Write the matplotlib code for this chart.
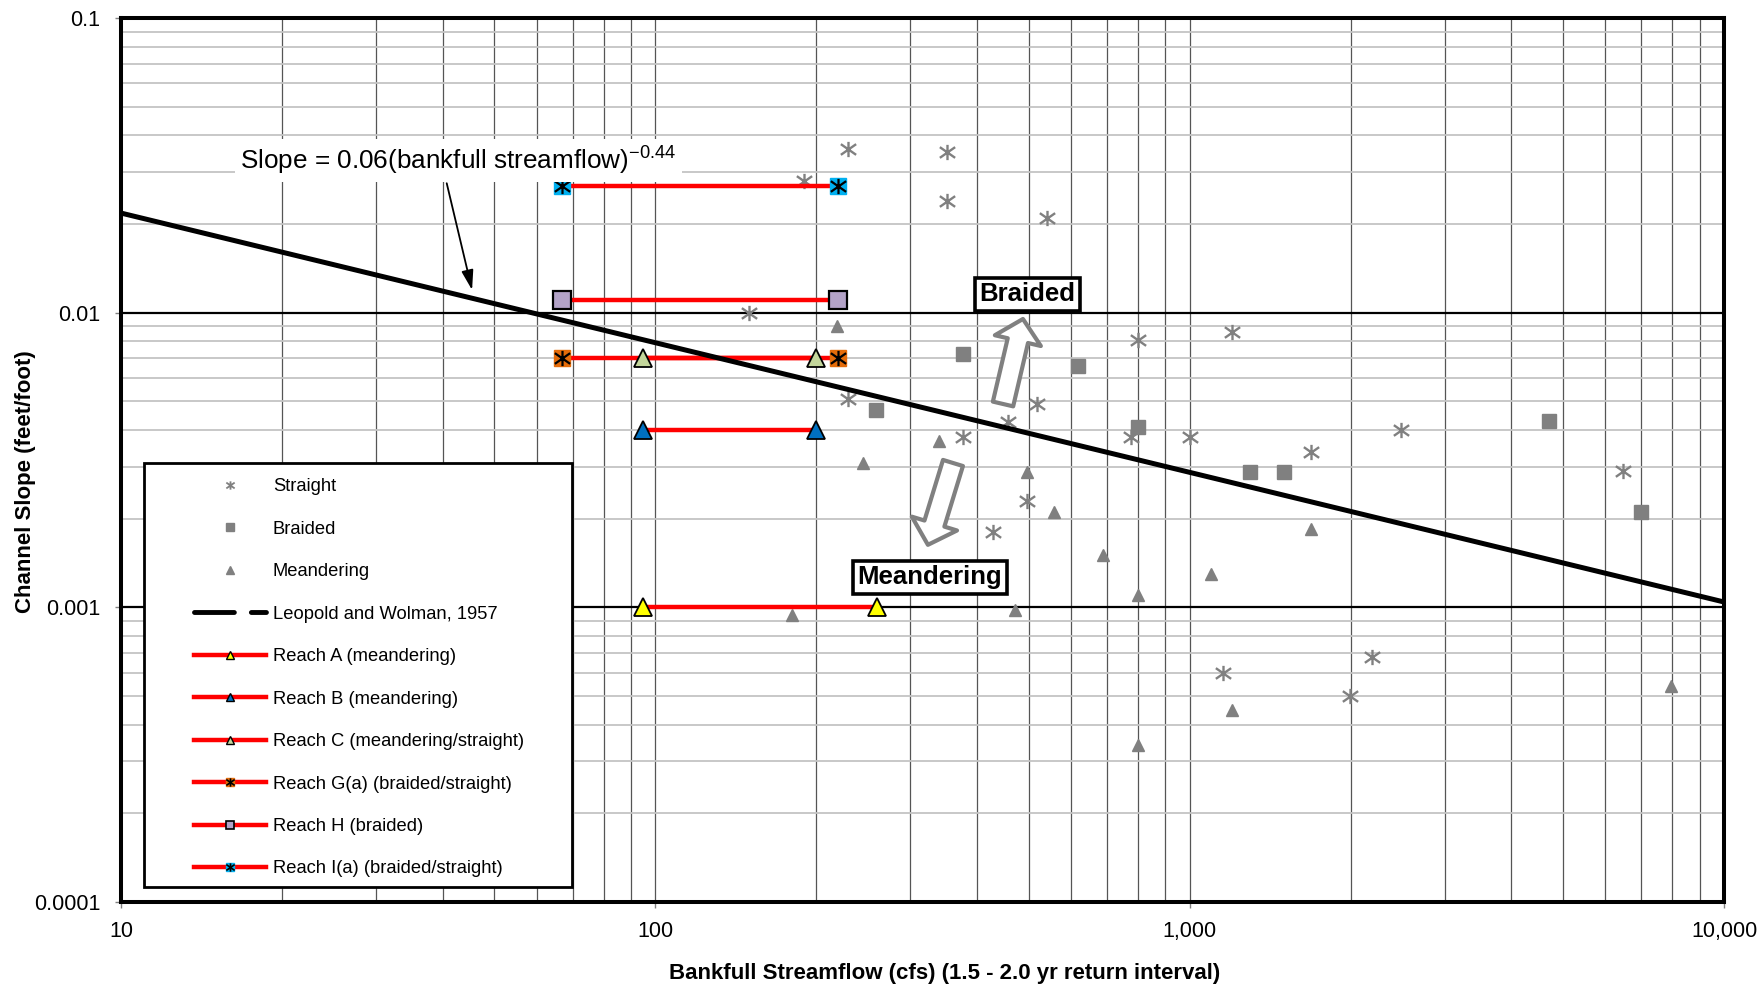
import numpy as np
import matplotlib
matplotlib.use('Agg')
import matplotlib.pyplot as plt
from matplotlib.lines import Line2D
from matplotlib.path import Path
from matplotlib.patches import Rectangle
from matplotlib.ticker import LogLocator, NullFormatter

plt.rcParams['font.family'] = ['Liberation Sans', 'DejaVu Sans']
plt.rcParams['mathtext.fontset'] = 'custom'
plt.rcParams['mathtext.rm'] = 'Liberation Sans'
plt.rcParams['mathtext.it'] = 'Liberation Sans:italic'
plt.rcParams['mathtext.bf'] = 'Liberation Sans:bold'

# --- published channel data (bankfull Q in cfs, slope in ft/ft) ---
straight_q = [190, 229, 351, 351, 540, 150, 799, 1200, 229, 519, 458, 377,
              776, 1000, 1690, 2490, 6470, 497, 428, 1154, 2198, 1995]
straight_s = [0.028, 0.036, 0.035, 0.024, 0.021, 0.010, 0.0081, 0.0086, 0.0051,
              0.0049, 0.00425, 0.0038, 0.0038, 0.0038, 0.00337, 0.0040, 0.0029,
              0.0023, 0.0018, 0.0006, 0.00068, 0.0005]

braided_q = [377, 618, 259, 799, 1296, 1500, 4700, 6985]
braided_s = [0.00724, 0.0066, 0.00467, 0.0041, 0.00288, 0.00288, 0.00428, 0.0021]

meander_q = [219, 339, 245, 497, 558, 687, 1094, 1690, 799, 471, 180, 799, 1200, 7962]
meander_s = [0.009, 0.00368, 0.0031, 0.00288, 0.0021, 0.00151, 0.0013, 0.00184,
             0.0011, 0.00098, 0.00094, 0.00034, 0.00045, 0.00054]

# Leopold and Wolman (1957): slope = coef * Q^exp
lw_coef = 0.06
lw_exp = -0.44
lw_q = np.array([10, 10000])

# study reaches: range of bankfull flows at a given slope
reach_names = ['Reach A (meandering)', 'Reach B (meandering)',
               'Reach C (meandering/straight)', 'Reach G(a) (braided/straight)',
               'Reach H (braided)', 'Reach I(a) (braided/straight)']
reach_q_lo = [95, 95, 95, 67, 67, 67]
reach_q_hi = [260, 200, 200, 220, 220, 220]
reach_slope = [0.001, 0.004, 0.007, 0.007, 0.011, 0.027]
reach_kind = ['tri', 'tri', 'tri', 'star', 'sq', 'star']
reach_color = ['#FFFF00', '#0070C0', '#C3D69B', '#E46C0A', '#B3A2C7', '#00B0F0']

x_ticks = [10, 100, 1000, 10000]
x_tick_labels = ['10', '100', '1,000', '10,000']
y_ticks = [0.0001, 0.001, 0.01, 0.1]
y_tick_labels = ['0.0001', '0.001', '0.01', '0.1']

GRAY = '#808080'

# asterisk marker: vertical bar plus an X
star = Path([(0, -1), (0, 1), (-1, -0.7), (1, 0.7), (-1, 0.7), (1, -0.7)],
            [Path.MOVETO, Path.LINETO] * 3)

fig = plt.figure(figsize=(17.61, 9.86), dpi=100)
ax = fig.add_axes([0.0687, 0.0852, 0.9103, 0.8965])
ax.set_xscale('log')
ax.set_yscale('log')
ax.set_xlim(10, 10000)
ax.set_ylim(0.0001, 0.1)

# grid
ax.xaxis.set_minor_locator(LogLocator(base=10, subs=np.arange(2, 10)))
ax.yaxis.set_minor_locator(LogLocator(base=10, subs=np.arange(2, 10)))
ax.xaxis.set_minor_formatter(NullFormatter())
ax.yaxis.set_minor_formatter(NullFormatter())
ax.xaxis.grid(True, which='both', color='#555555', lw=0.9)
ax.yaxis.grid(True, which='minor', color='#c4c4c4', lw=1.3)
ax.yaxis.grid(True, which='major', color='black', lw=1.6)
ax.set_axisbelow(True)

# background data
ax.plot(straight_q, straight_s, ls='none', marker=star, ms=11, mec=GRAY,
        mew=1.7, zorder=2.5)
ax.plot(meander_q, meander_s, ls='none', marker='^', ms=9, mfc=GRAY, mec=GRAY,
        zorder=2.5)

# Leopold and Wolman line
ax.plot(lw_q, lw_coef * lw_q ** lw_exp, color='black', lw=3.6, zorder=4)

ax.plot(braided_q, braided_s, ls='none', marker='s', ms=10, mfc=GRAY, mec=GRAY,
        zorder=4.5)

# reaches (drawn top-down so reach C triangles sit on the G(a) line)
for i in [5, 4, 3, 2, 1, 0]:
    qq = [reach_q_lo[i], reach_q_hi[i]]
    ss = [reach_slope[i], reach_slope[i]]
    ax.plot(qq, ss, color='red', lw=3.2, zorder=3 + 0.1 * (6 - i))
    zm = 5 + 0.1 * (6 - i)
    if reach_kind[i] == 'tri':
        ax.plot(qq, ss, ls='none', marker='^', ms=13.5, mfc=reach_color[i],
                mec='black', mew=1.3, zorder=zm)
    elif reach_kind[i] == 'sq':
        ax.plot(qq, ss, ls='none', marker='s', ms=13, mfc=reach_color[i],
                mec='black', mew=1.6, zorder=zm)
    else:
        ax.plot(qq, ss, ls='none', marker='s', ms=12, mfc=reach_color[i],
                mec=reach_color[i], zorder=zm)
        ax.plot(qq, ss, ls='none', marker=star, ms=11, mec='black', mew=1.6,
                zorder=zm + 0.05)

# equation annotation
ax.text(16.7, 0.0328, 'Slope = 0.06(bankfull streamflow)$^{-0.44}$',
        fontsize=18.8, ha='left', va='center', zorder=6,
        bbox=dict(fc='white', ec='none', pad=4))
ax.annotate('', xy=(45.4, 0.01194), xytext=(40.7, 0.0275), zorder=6,
            arrowprops=dict(arrowstyle='-|>,head_length=0.6,head_width=0.18',
                            mutation_scale=20, color='black', lw=1.3,
                            shrinkA=0, shrinkB=0))

# Braided / Meandering labels and block arrows
box = dict(boxstyle='square,pad=0.18', fc='white', ec='black', lw=2.6)
ax.text(497, 0.01155, 'Braided', fontsize=18.5, fontweight='bold',
        ha='center', va='center', bbox=box, zorder=7)
ax.text(326, 0.001265, 'Meandering', fontsize=18.5, fontweight='bold',
        ha='center', va='center', bbox=box, zorder=7)
block = dict(arrowstyle='simple,head_length=0.8,head_width=1.7,tail_width=0.75',
             mutation_scale=20, fc='white', ec=GRAY, lw=3, shrinkA=0, shrinkB=0)
ax.annotate('', xy=(487.5, 0.00952), xytext=(447.4, 0.0049),
            arrowprops=block, zorder=6)
ax.annotate('', xy=(323.7, 0.00163), xytext=(360.6, 0.00309),
            arrowprops=block, zorder=6)

# axes styling
for sp in ax.spines.values():
    sp.set_linewidth(2.9)
ax.set_xticks(x_ticks, x_tick_labels)
ax.set_yticks(y_ticks, y_tick_labels)
ax.tick_params(which='major', direction='out', length=4, width=1, color=GRAY,
               labelsize=15.5)
ax.tick_params(axis='y', pad=11)
ax.tick_params(axis='x', pad=10)
ax.tick_params(which='minor', length=0)
ax.set_xlabel('Bankfull Streamflow (cfs) (1.5 - 2.0 yr return interval)',
              fontsize=16, fontweight='bold')
ax.set_ylabel('Channel Slope (feet/foot)', fontsize=16, fontweight='bold')
ax.xaxis.set_label_coords(0.514, -0.069)
ax.yaxis.set_label_coords(-0.053, 0.476)

# legend with manual frame
ax.add_patch(Rectangle((0.0144, 0.017), 0.2669, 0.4796, transform=ax.transAxes,
                       fc='white', ec='black', lw=2, zorder=10))
handles = [
    Line2D([], [], ls='none', marker=star, ms=6, mec=GRAY, mew=1.3),
    Line2D([], [], ls='none', marker='s', ms=6, mfc=GRAY, mec=GRAY),
    Line2D([], [], ls='none', marker='^', ms=6, mfc=GRAY, mec=GRAY),
    Line2D([], [], color='black', lw=3.5, dashes=(8.2, 3.5, 3.1, 20),
           dash_capstyle='round'),
]
for i in range(6):
    if reach_kind[i] == 'tri':
        h = Line2D([], [], color='red', lw=3.2, marker='^', ms=6,
                   mfc=reach_color[i], mec='black', mew=1)
    elif reach_kind[i] == 'sq':
        h = Line2D([], [], color='red', lw=3.2, marker='s', ms=6,
                   mfc=reach_color[i], mec='black', mew=1.2)
    else:
        h = (Line2D([], [], color='red', lw=3.2, marker='s', ms=6,
                    mfc=reach_color[i], mec=reach_color[i]),
             Line2D([], [], ls='none', marker=star, ms=6, mec='black', mew=1.2))
    handles.append(h)
labels = ['Straight', 'Braided', 'Meandering', 'Leopold and Wolman, 1957'] + reach_names
leg = ax.legend(handles, labels, loc='upper left', bbox_to_anchor=(0.0455, 0.4795),
                frameon=False, fontsize=13.2, handlelength=3.95, handletextpad=0.35,
                labelspacing=1.39, borderpad=0, borderaxespad=0)
leg.set_zorder(11)

fig.savefig('out.png', dpi=100)
